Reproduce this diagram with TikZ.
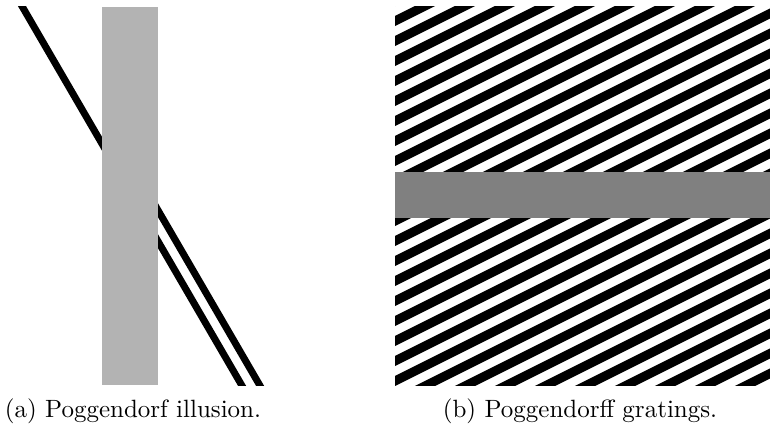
\documentclass[tikz,border=0pt]{standalone}
\begin{document}
\begin{tikzpicture}[x=0.4pt,y=-0.4pt,
  thickline/.style={line width=2.8pt,black},
  stripe/.style={line width=3.6pt,black},
  caption/.style={anchor=base,inner sep=0pt,font=\normalsize}]
\useasboundingbox (0,0) rectangle (770,426);
% ---- left panel: Poggendorff illusion ----
\begin{scope}
  \clip (0,7) rectangle (280,385);
  \draw[thickline] (12.5,-10.2) -- (110,157.5);
  \draw[thickline] (150,196.5) -- (280,420.1);
  \draw[thickline] (150,227.5) -- (280,451.1);
\end{scope}
\fill[fill={rgb,255:red,179;green,179;blue,179}] (102,7) rectangle (158,385);
% ---- right panel: Poggendorff gratings ----
\begin{scope}
  \clip (395,7) rectangle (770,385);
  \foreach \k in {-2,...,29}{
    \draw[stripe] (345,{46+20*\k}) -- (820,{-191.5+20*\k});
  }
\end{scope}
\fill[fill={rgb,255:red,128;green,128;blue,128}] (395,172) rectangle (770,218);
% ---- captions ----
\node[caption] (capa) at (133,417) {(a) Poggendorf illusion.};
\node[caption] (capb) at (580,417) {(b) Poggendorff gratings.};
\end{tikzpicture}
\end{document}
